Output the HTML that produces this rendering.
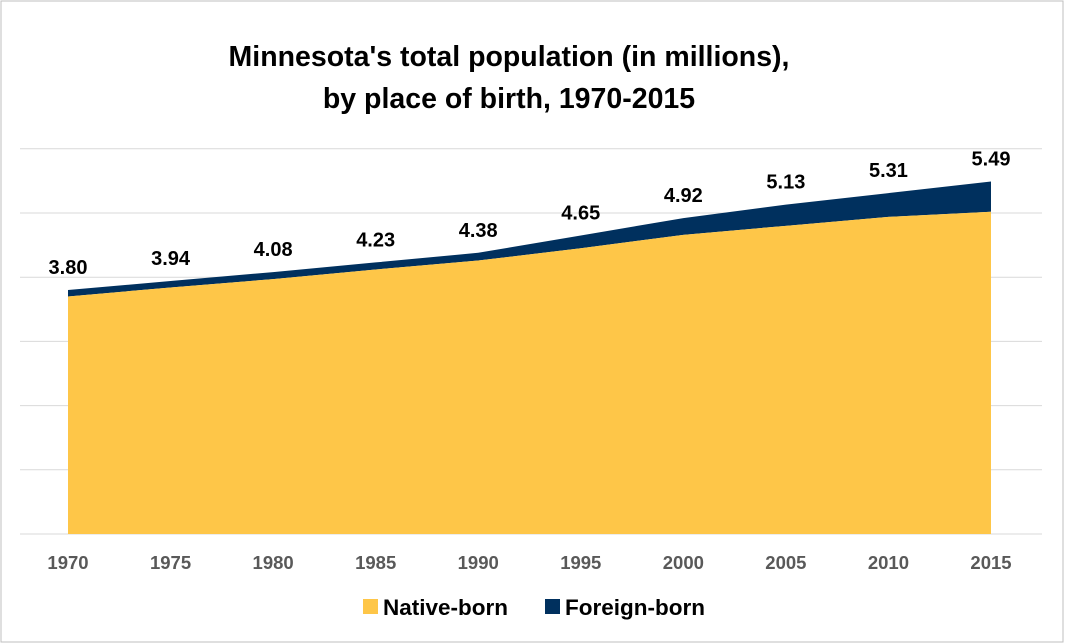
<!DOCTYPE html>
<html><head><meta charset="utf-8"><style>
body{margin:0;background:#fff;}
svg{display:block;font-family:"Liberation Sans",Arial,sans-serif;}
</style></head><body>
<svg id="chart" width="1065" height="644">
<rect x="1" y="1" width="1062" height="641" fill="#fff" stroke="#bfbfbf" stroke-width="1"/>
<text x="509" y="66" text-anchor="middle" font-size="28.5" font-weight="bold" fill="#000">Minnesota's total population (in millions),</text>
<text x="509" y="108" text-anchor="middle" font-size="28.5" font-weight="bold" fill="#000">by place of birth, 1970-2015</text>
<g id="grid"></g><g id="areas"></g><g id="labels"></g><g id="xaxis"></g>
<g>
<rect x="363" y="599" width="15" height="15" fill="#FEC648"/>
<text x="383" y="615" font-size="22.5" font-weight="bold" fill="#000">Native-born</text>
<rect x="545" y="599" width="15" height="15" fill="#00305E"/>
<text x="565" y="615" font-size="22.5" font-weight="bold" fill="#000">Foreign-born</text>
</g>
</svg>
<script>
const years=["1970","1975","1980","1985","1990","1995","2000","2005","2010","2015"];
const native=[3.70,3.84,3.97,4.12,4.26,4.45,4.66,4.80,4.94,5.02];
const total=[3.80,3.94,4.08,4.23,4.38,4.65,4.92,5.13,5.31,5.49];
const totalLabels=["3.80","3.94","4.08","4.23","4.38","4.65","4.92","5.13","5.31","5.49"];
const gridVals=[1,2,3,4,5,6];
const NS="http://www.w3.org/2000/svg";
const x0=68,x1=991,yBase=534,ppu=64.2;
const xs=i=>x0+(x1-x0)*i/(years.length-1);
const ys=v=>yBase-v*ppu;
function mk(tag,attrs,parent){const e=document.createElementNS(NS,tag);for(const k in attrs)e.setAttribute(k,attrs[k]);parent.appendChild(e);return e;}
const grid=document.getElementById('grid');
gridVals.forEach(v=>{const l=mk('line',{x1:20,x2:1042,y1:ys(v),y2:ys(v),stroke:'#d9d9d9','stroke-width':1},grid);

});
const ax=mk('line',{x1:20,x2:1042,y1:yBase,y2:yBase,stroke:'#d9d9d9','stroke-width':1},grid);


const areas=document.getElementById('areas');
let pf=years.map((y,i)=>xs(i)+','+ys(total[i])).join(' ')+' '+years.map((y,i)=>xs(i)+','+ys(native[i])).reverse().join(' ');
const fa=mk('polygon',{points:pf,fill:'#00305E'},areas);


let pn=years.map((y,i)=>xs(i)+','+ys(native[i])).join(' ')+` ${xs(years.length-1)},${yBase} ${xs(0)},${yBase}`;
const na=mk('polygon',{points:pn,fill:'#FEC648'},areas);


const lab=document.getElementById('labels'),xa=document.getElementById('xaxis');
years.forEach((y,i)=>{
 const t=mk('text',{x:xs(i),y:ys(total[i])-16,'text-anchor':'middle','font-size':20,'font-weight':'bold',fill:'#000'},lab);
 t.textContent=totalLabels[i];
 
 
 const a=mk('text',{x:xs(i),y:569,'text-anchor':'middle','font-size':18.5,'font-weight':'bold',fill:'#595959'},xa);
 a.textContent=y;
 
 
});
</script>
</body></html>
